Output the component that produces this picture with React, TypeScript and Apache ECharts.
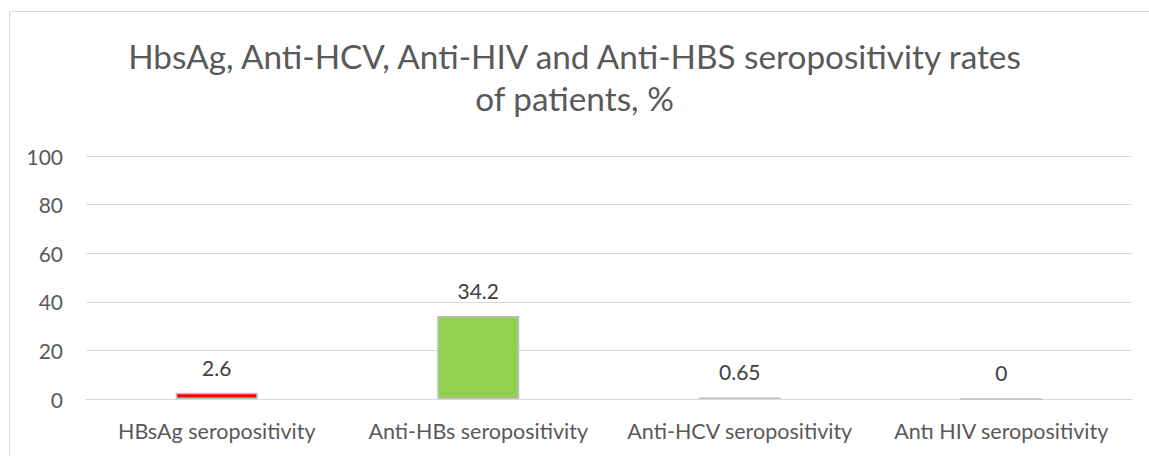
import React, { useEffect, useRef } from "react";
import * as echarts from "echarts";

const categories = [
  "HBsAg seropositivity",
  "Anti-HBs seropositivity",
  "Anti-HCV seropositivity",
  "Antı HIV seropositivity",
];
const values = [2.6, 34.2, 0.65, 0];
const barColors = ["#ff0000", "#92d050", "#d9d9d9", "#d9d9d9"];
const titleText = "HbsAg, Anti-HCV, Anti-HIV and Anti-HBS seropositivity rates\nof patients, %";
const yTicks = { min: 0, max: 100, interval: 20 };

export default function App() {
  const ref = useRef<HTMLDivElement>(null);
  useEffect(() => {
    if (!ref.current) return;
    const chart = echarts.init(ref.current, null, { renderer: "svg" });
    const font = "Lato, Liberation Sans, sans-serif";
    chart.setOption({
      animation: false,
      backgroundColor: "#ffffff",
      title: {
        text: titleText,
        left: "center",
        top: 30,
        textStyle: {
          fontFamily: font,
          fontSize: 33.3,
          fontWeight: "normal",
          color: "#595959",
          lineHeight: 42,
        },
      },
      graphic: [
        {
          type: "rect",
          shape: { x: 9.5, y: 11.5, width: 1200, height: 500 },
          style: { fill: "none", stroke: "#d9d9d9", lineWidth: 1 },
          silent: true,
        },
      ],
      grid: { left: 86, right: 17, top: 156, bottom: 57 },
      xAxis: {
        type: "category",
        data: categories,
        axisLine: { lineStyle: { color: "#d9d9d9" } },
        axisTick: { show: false },
        axisLabel: {
          interval: 0,
          fontFamily: font,
          fontSize: 21.5,
          color: "#595959",
          margin: 21,
        },
      },
      yAxis: {
        type: "value",
        min: yTicks.min,
        max: yTicks.max,
        interval: yTicks.interval,
        axisLine: { show: false },
        axisTick: { show: false },
        splitLine: { lineStyle: { color: "#d9d9d9" } },
        axisLabel: {
          fontFamily: font,
          fontSize: 21,
          color: "#595959",
          margin: 23,
        },
      },
      series: [
        {
          type: "bar",
          barWidth: 82,
          data: values.map((v, i) => ({
            value: v,
            itemStyle: {
              color: barColors[i],
              borderColor: "#bfbfbf",
              borderWidth: 1.5,
            },
          })),
          label: {
            show: true,
            position: "top",
            distance: 15,
            fontFamily: font,
            fontSize: 21,
            color: "#404040",
          },
        },
      ],
    });
    return () => chart.dispose();
  }, []);
  return (
    <div
      ref={ref}
      style={{ position: "fixed", left: 0, top: 0, width: 1149, height: 456 }}
    />
  );
}
